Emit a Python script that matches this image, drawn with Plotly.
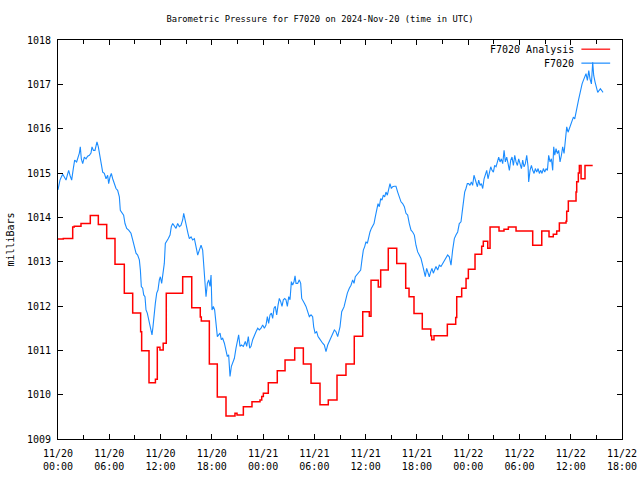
import pandas as pd
import plotly.graph_objects as go

START = pd.Timestamp("2024-11-20 00:00")

# F7020 Analysis (step series): hours since start, value from that hour on
analysis_hours = [0.0, 0.62, 1.72, 1.9, 2.69, 3.78, 4.72, 5.70, 6.67, 7.76, 8.74, 9.67, 9.79,
                  10.65, 11.4, 11.62, 11.93, 12.31, 12.67, 14.59, 15.65, 16.65, 16.77, 17.71,
                  18.64, 19.66, 20.71, 20.95, 21.69, 22.70, 23.64, 23.84, 24.03, 24.61, 25.66,
                  26.57, 27.70, 28.71, 29.61, 30.66, 31.63, 32.65, 33.70, 34.67, 35.66, 36.43,
                  36.63, 37.48, 37.76, 38.65, 39.64, 40.69, 41.08, 41.66, 42.63, 43.62, 43.73,
                  44.0, 45.56, 46.54, 46.66, 47.24, 47.75, 48.02, 48.80, 49.58, 49.77, 50.29,
                  50.56, 51.61, 52.19, 52.70, 53.60, 55.55, 56.61, 57.46, 57.96, 58.36, 58.67,
                  59.45, 59.53, 59.72, 60.62, 60.70, 60.89, 61.01, 61.21, 61.67, 62.57]
analysis_values = [1013.51, 1013.52, 1013.78, 1013.80, 1013.86, 1014.04, 1013.84, 1013.52, 1012.94,
                   1012.29, 1011.84, 1011.42, 1010.99, 1010.27, 1010.35, 1011.07, 1011.01, 1011.16,
                   1012.29, 1012.66, 1011.96, 1011.75, 1011.66, 1010.69, 1009.95, 1009.52, 1009.58,
                   1009.54, 1009.73, 1009.84, 1009.88, 1009.96, 1010.03, 1010.27, 1010.54, 1010.78,
                   1011.05, 1010.69, 1010.26, 1009.77, 1009.88, 1010.44, 1010.69, 1011.32, 1011.87,
                   1011.77, 1012.58, 1012.43, 1012.81, 1013.30, 1012.96, 1012.40, 1012.21, 1011.83,
                   1011.48, 1011.33, 1011.24, 1011.33, 1011.59, 1011.74, 1012.21, 1012.40, 1012.62,
                   1012.83, 1013.17, 1013.35, 1013.46, 1013.30, 1013.78, 1013.69, 1013.73, 1013.78,
                   1013.69, 1013.37, 1013.69, 1013.56, 1013.62, 1013.69, 1013.87, 1013.91, 1014.14,
                   1014.37, 1014.57, 1014.80, 1015.00, 1015.17, 1014.87, 1015.17, 1015.17]

# F7020 observations: hours since start and pressure
obs_hours = [0.0, 0.08, 0.23, 0.39, 0.55, 0.74, 0.94, 1.09, 1.25, 1.40, 1.60, 1.79, 1.95, 2.18,
             2.34, 2.50, 2.61, 2.73, 2.89, 3.08, 3.28, 3.47, 3.67, 3.86, 3.98, 4.14, 4.33, 4.45,
             4.56, 4.72, 4.84, 4.95, 5.11, 5.23, 5.42, 5.62, 5.81, 5.93, 6.09, 6.24, 6.40, 6.59,
             6.79, 6.98, 7.18, 7.29, 7.49, 7.68, 7.84, 8.04, 8.27, 8.54, 8.74, 8.93, 9.13, 9.32,
             9.52, 9.64, 9.75, 9.91, 10.03, 10.18, 10.30, 10.45, 10.61, 10.77, 10.88, 11.00, 11.12,
             11.27, 11.39, 11.55, 11.70, 11.86, 11.98, 12.13, 12.25, 12.44, 12.56, 12.72, 12.91,
             13.11, 13.26, 13.42, 13.61, 13.81, 14.00, 14.20, 14.39, 14.59, 14.71, 14.86, 15.06,
             15.21, 15.37, 15.57, 15.76, 15.96, 16.15, 16.35,
             16.54, 16.74, 16.93, 17.13, 17.32, 17.48, 17.63, 17.79, 17.91, 18.02, 18.18, 18.33,
             18.49, 18.65, 18.80, 18.96, 19.11, 19.27, 19.47, 19.66, 19.82, 19.97, 20.13, 20.29,
             20.44, 20.64, 20.83, 20.99, 21.14, 21.30, 21.46, 21.69, 21.92, 22.08, 22.27, 22.43,
             22.59, 22.78, 22.98, 23.17, 23.37, 23.56, 23.76, 23.95, 24.15, 24.34, 24.50, 24.65,
             24.81, 24.97, 25.12, 25.28, 25.43, 25.59, 25.75, 25.90, 26.06, 26.21, 26.37, 26.53,
             26.68, 26.84, 27.00, 27.15, 27.31, 27.46, 27.62, 27.74, 27.85, 28.05, 28.24, 28.40,
             28.52, 28.63, 28.83, 29.02, 29.22, 29.41, 29.61, 29.80, 29.92, 30.08, 30.27, 30.43,
             30.58, 30.78, 30.97, 31.17, 31.36, 31.56, 31.75, 31.95, 32.14, 32.34, 32.53, 32.73,
             33.0, 33.2, 33.47, 33.7, 33.86,
             34.09, 34.29, 34.48, 34.64, 34.79, 34.95, 35.10, 35.26, 35.42, 35.57, 35.73, 35.89,
             36.04, 36.20, 36.35, 36.51, 36.67, 36.82, 36.98, 37.13, 37.29, 37.45, 37.60, 37.76,
             37.91, 38.07, 38.23, 38.38, 38.54, 38.69, 38.85, 39.01, 39.16, 39.36, 39.55, 39.75,
             39.94, 40.14, 40.33, 40.53, 40.72, 40.92, 41.11, 41.31, 41.50, 41.70, 41.89, 42.09,
             42.28, 42.48, 42.67, 42.83, 42.98, 43.14, 43.30, 43.45, 43.61, 43.76, 43.92, 44.08,
             44.23, 44.43, 44.62, 44.82, 45.01, 45.21, 45.40, 45.60, 45.79, 45.99, 46.18, 46.38,
             46.57, 46.77, 46.96, 47.16, 47.28, 47.43, 47.59, 47.74, 47.90, 48.06, 48.21, 48.37,
             48.52, 48.68, 48.84, 48.99,
             49.08, 49.23, 49.39, 49.54, 49.70, 49.86, 50.01, 50.17, 50.32, 50.48, 50.64, 50.79,
             50.95, 51.10, 51.26, 51.42, 51.57, 51.73, 51.88, 52.04, 52.20, 52.35, 52.51, 52.67,
             52.82, 52.98, 53.13, 53.29, 53.45, 53.60, 53.76, 53.91, 54.07, 54.23, 54.38, 54.54,
             54.69, 54.85, 55.01, 55.08, 55.24, 55.40, 55.55, 55.71, 55.86, 56.02, 56.18, 56.33,
             56.49, 56.64, 56.80, 56.96, 57.11, 57.27, 57.42, 57.58, 57.74, 57.89, 58.01, 58.13,
             58.28, 58.44, 58.59, 58.75, 58.91, 59.06, 59.22, 59.37, 59.53, 59.69, 59.84, 60.00,
             60.16, 60.31, 60.47, 60.62, 60.78, 60.94, 61.05, 61.17, 61.33, 61.48, 61.64, 61.79,
             61.95, 62.11, 62.26, 62.42, 62.57, 62.69, 62.85, 63.00, 63.16, 63.31, 63.47, 63.63,
             63.78]
obs_values = [1014.62, 1014.72, 1014.84, 1014.91, 1014.97, 1014.91, 1014.84, 1014.95, 1015.06,
              1014.95, 1014.84, 1015.10, 1015.29, 1015.25, 1015.36, 1015.45, 1015.59, 1015.32,
              1015.21, 1015.36, 1015.32, 1015.38, 1015.40, 1015.45, 1015.59, 1015.51, 1015.51,
              1015.66, 1015.70, 1015.59, 1015.47, 1015.32, 1015.21, 1015.02, 1014.99, 1014.87,
              1014.95, 1014.76, 1014.91, 1014.99, 1014.87, 1014.76, 1014.65, 1014.61, 1014.46,
              1014.16, 1014.09, 1014.05, 1013.86, 1013.75, 1013.71, 1013.64, 1013.49, 1013.37,
              1013.19, 1013.15, 1013.04, 1012.81, 1012.44, 1012.40, 1012.25, 1012.21, 1011.91,
              1011.84, 1011.69, 1011.61, 1011.46, 1011.35, 1011.54, 1011.87, 1012.06, 1012.29,
              1012.36, 1012.59, 1012.66, 1012.51, 1012.66, 1012.96, 1013.41, 1013.45, 1013.52,
              1013.60, 1013.79, 1013.86, 1013.79, 1013.75, 1013.86, 1013.79, 1013.82, 1013.94,
              1014.09, 1013.94, 1013.71, 1013.64, 1013.52, 1013.56, 1013.49, 1013.52, 1013.34,
              1013.15,
              1013.26, 1013.37, 1013.26, 1012.81, 1012.21, 1012.51, 1012.59, 1012.44, 1012.70,
              1011.91, 1011.99, 1011.91, 1011.50, 1011.31, 1011.35, 1011.39, 1011.24, 1011.27,
              1011.16, 1011.01, 1010.86, 1010.90, 1010.41, 1010.64, 1010.71, 1010.82, 1011.05,
              1011.20, 1011.35, 1011.09, 1011.12, 1011.09, 1011.20, 1011.09, 1011.31, 1011.05,
              1011.09, 1011.24, 1011.35, 1011.42, 1011.50, 1011.46, 1011.50, 1011.57, 1011.50,
              1011.57, 1011.76, 1011.61, 1011.80, 1011.84, 1011.72, 1011.95, 1011.99, 1011.80,
              1012.02, 1012.17, 1012.10, 1011.99, 1012.14, 1012.17, 1012.14, 1011.99, 1012.21,
              1012.14, 1012.55, 1012.47, 1012.55, 1012.68, 1012.51, 1012.51, 1012.59, 1012.51,
              1012.17, 1012.14, 1012.06, 1011.99, 1011.87, 1011.76, 1011.80, 1011.76, 1011.53,
              1011.39, 1011.42, 1011.31, 1011.27, 1011.20, 1011.16, 1011.12, 1010.97, 1011.12,
              1011.20, 1011.31, 1011.35, 1011.46, 1011.42, 1011.31,
              1011.53, 1011.87, 1011.98, 1012.21, 1012.29,
              1012.40, 1012.47, 1012.59, 1012.51, 1012.66, 1012.70, 1012.74, 1012.77, 1012.81,
              1013.04, 1013.26, 1013.34, 1013.45, 1013.41, 1013.56, 1013.67, 1013.75, 1013.82,
              1013.86, 1014.01, 1014.16, 1014.31, 1014.24, 1014.42, 1014.39, 1014.50, 1014.46,
              1014.57, 1014.50, 1014.61, 1014.76, 1014.65, 1014.69, 1014.70, 1014.70, 1014.57,
              1014.46, 1014.35, 1014.31, 1014.24, 1014.09, 1014.05, 1013.86, 1013.71, 1013.67,
              1013.60, 1013.37, 1013.22, 1013.15, 1013.07, 1012.92, 1012.81, 1012.66, 1012.85,
              1012.77, 1012.66, 1012.77, 1012.85, 1012.74, 1012.81, 1012.89, 1012.81, 1012.92,
              1012.89, 1012.96, 1013.00, 1013.07, 1013.15, 1013.11, 1012.92, 1013.26, 1013.52,
              1013.60, 1013.67, 1013.86, 1013.90, 1014.09, 1014.39, 1014.57, 1014.65, 1014.76,
              1014.76, 1014.72, 1014.80, 1014.72, 1014.95, 1014.84, 1014.72,
              1014.69, 1014.84, 1014.72, 1014.76, 1014.65, 1014.87, 1014.99, 1015.06, 1014.87,
              1014.99, 1015.14, 1015.06, 1015.02, 1015.17, 1015.14, 1015.25, 1015.36, 1015.25,
              1015.32, 1015.21, 1015.51, 1015.25, 1015.36, 1015.21, 1015.06, 1015.29, 1015.36,
              1015.17, 1015.40, 1015.25, 1015.17, 1015.32, 1015.21, 1015.10, 1015.29, 1015.14,
              1015.21, 1015.40, 1015.14, 1014.80, 1015.06, 1015.17, 1015.06, 1014.99, 1015.10,
              1015.02, 1015.10, 1014.99, 1015.06, 1014.99, 1015.10, 1015.02, 1015.10, 1015.06,
              1015.40, 1015.25, 1015.32, 1015.06, 1015.59, 1015.40, 1015.55, 1015.44, 1015.51,
              1015.25, 1015.40, 1015.59, 1015.44, 1015.74, 1016.04, 1015.92, 1016.00, 1016.07,
              1016.15, 1016.26, 1016.22, 1016.41, 1016.52, 1016.67, 1016.79, 1016.86, 1017.01,
              1017.09, 1017.16, 1017.24, 1017.09, 1017.31, 1017.12, 1017.01, 1017.50, 1017.20,
              1017.05, 1016.94, 1016.82, 1016.86, 1016.90, 1016.86, 1016.82]

TITLE = "Barometric Pressure for F7020 on 2024-Nov-20 (time in UTC)"
Y_LABEL = "milliBars"
SERIES_NAMES = ["F7020 Analysis", "F7020"]
SERIES_COLORS = ["#ff0000", "#1a8cff"]
X_START = "2024-11-20 00:00"
X_END = "2024-11-22 18:00"
FONT = "DejaVu Sans Mono"


def to_time(hours):
    return [START + pd.Timedelta(hours=h) for h in hours]


fig = go.Figure()
fig.add_trace(go.Scatter(x=to_time(analysis_hours), y=analysis_values, mode="lines",
                         line=dict(color=SERIES_COLORS[0], width=1.5, shape="hv"),
                         name=SERIES_NAMES[0], showlegend=False))
fig.add_trace(go.Scatter(x=to_time(obs_hours), y=obs_values, mode="lines",
                         line=dict(color=SERIES_COLORS[1], width=1.1),
                         name=SERIES_NAMES[1], showlegend=False))

# gnuplot-style key: text right-aligned, line sample to its right
key_y = [0.977, 0.942]
for name, color, ky in zip(SERIES_NAMES, SERIES_COLORS, key_y):
    fig.add_annotation(x=0.918, y=ky, xref="paper", yref="paper", text=name,
                       showarrow=False, xanchor="right", yanchor="middle",
                       font=dict(family=FONT, size=10, color="black"))
    fig.add_shape(type="line", xref="paper", yref="paper", x0=0.928, x1=0.979,
                  y0=ky, y1=ky, line=dict(color=color, width=1.2))

axis_common = dict(showline=True, linecolor="black", linewidth=1, mirror="ticks",
                   ticks="inside", ticklen=5, tickcolor="black", showgrid=False,
                   zeroline=False, automargin=False,
                   tickfont=dict(family=FONT, size=10, color="black"))

fig.update_xaxes(type="date", range=[X_START, X_END], tick0=X_START, dtick=6 * 3600 * 1000,
                 tickformat="%m/%d<br>%H:%M", ticklabelstandoff=5,
                 minor=dict(dtick=3 * 3600 * 1000, ticks="inside", ticklen=4,
                            tickcolor="black", showgrid=False),
                 **axis_common)
fig.update_yaxes(range=[1009, 1018], dtick=1, tick0=1009, ticklabelstandoff=4,
                 title=dict(text=Y_LABEL, font=dict(family=FONT, size=10, color="black"),
                            standoff=10),
                 **axis_common)

fig.update_layout(
    width=640, height=480,
    margin=dict(l=58, r=18, t=40, b=41, pad=0),
    paper_bgcolor="white", plot_bgcolor="white",
    title=dict(text=TITLE, x=0.5, xanchor="center", y=1 - 19 / 480, yanchor="middle",
               font=dict(family=FONT, size=8.8, color="black")),
    font=dict(family=FONT, size=10, color="black"),
)

fig.write_html("out.html", config={"displayModeBar": False},
               post_script="document.body.style.margin='0';")
